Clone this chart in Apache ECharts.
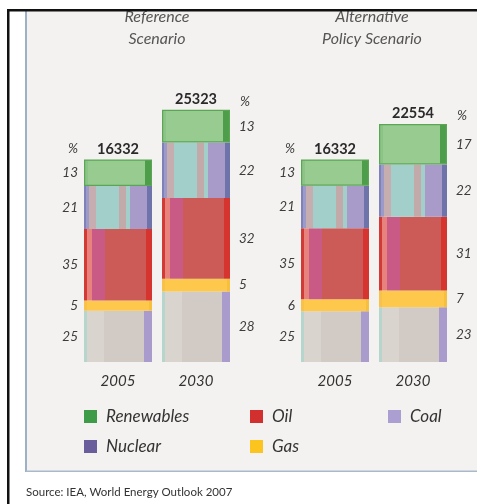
<!DOCTYPE html>
<html><head><meta charset="utf-8">
<script src="https://cdn.jsdelivr.net/npm/echarts@6/dist/echarts.min.js"></script>
<style>html,body{margin:0;padding:0;background:#fff}#c{width:477px;height:504px}</style>
</head><body><div id="c"></div>
<script>
// ---- data ----
const scenarioTitles = ['Reference\nScenario', 'Alternative\nPolicy Scenario'];
const years = ['2005', '2030'];
const fuels = ['Coal', 'Gas', 'Oil', 'Nuclear', 'Renewables']; // stacked bottom -> top
const totals = [[16332, 25323], [16332, 22554]];
const coalPct = [[25, 28], [25, 23]];
const gasPct = [[5, 5], [6, 7]];
const oilPct = [[35, 32], [35, 31]];
const nuclearPct = [[21, 22], [21, 22]];
const renewablesPct = [[13, 13], [13, 17]];
const sourceText = 'Source: IEA, World Energy Outlook 2007';

const pctByFuel = { Coal: coalPct, Gas: gasPct, Oil: oilPct, Nuclear: nuclearPct, Renewables: renewablesPct };

// ---- styles ----
const FONT = 'Lato';
function hgrad(stops) {
  const cs = [];
  for (const [a, b, c] of stops) { cs.push({ offset: a, color: c }); cs.push({ offset: b, color: c }); }
  return new echarts.graphic.LinearGradient(0, 0, 1, 0, cs);
}
const fills = {
  Coal: () => hgrad([[0, 0.05, '#b6d6cd'], [0.05, 0.3, '#dad4cf'], [0.3, 0.88, '#d1cac5'], [0.88, 1, '#a99bcc']]),
  Gas: () => hgrad([[0, 0.04, '#f8c24a'], [0.04, 0.95, '#fdc84c'], [0.95, 1, '#f6bf3c']]),
  Oil: () => hgrad([[0, 0.05, '#d23a35'], [0.05, 0.12, '#e7837c'], [0.12, 0.31, '#c95a85'], [0.31, 0.91, '#cc5a56'], [0.91, 1, '#d5342f']]),
  Nuclear: () => hgrad([[0, 0.03, '#7e82b8'], [0.03, 0.07, '#9c9ac8'], [0.07, 0.17, '#c6aeb0'], [0.17, 0.52, '#a3cfcb'], [0.52, 0.62, '#c2aaaa'], [0.62, 0.67, '#a3cfcb'], [0.67, 0.93, '#a89ac9'], [0.93, 1, '#6e74aa']]),
  Renewables: () => hgrad([[0, 0.06, '#8cc488'], [0.06, 0.9, '#97cb90'], [0.9, 1, '#4e9d4b']])
};
const legendColors = { Renewables: '#3e9b47', Oil: '#d22f2f', Coal: '#ab9fd2', Nuclear: '#6a5d9b', Gas: '#fbc41f' };

const BAR_W = 68;
const gridLefts = [79, 296];
const grids = [], xAxes = [], yAxes = [], series = [];
const labelBase = { show: true, color: '#3c3c3c', fontFamily: FONT, fontStyle: 'italic', fontSize: 13.5 };

for (let g = 0; g < 2; g++) {
  grids.push({ left: gridLefts[g], width: 156, top: 45, bottom: 142 });
  xAxes.push({
    type: 'category', gridIndex: g, data: years,
    axisLine: { show: false }, axisTick: { show: false },
    axisLabel: { margin: 12, fontSize: 15, fontStyle: 'italic', color: '#333', fontFamily: FONT }
  });
  yAxes.push({ type: 'value', gridIndex: g, min: 0, max: 200, show: false });
  const sums = years.map((y, i) => fuels.reduce((s, f) => s + pctByFuel[f][g][i], 0));
  const heights = years.map((y, i) => Math.sqrt(totals[g][i]));
  for (const f of fuels) {
    series.push({
      type: 'bar', name: f, xAxisIndex: g, yAxisIndex: g, stack: 's' + g, barWidth: BAR_W,
      itemStyle: f === 'Renewables' ? { color: fills[f](), borderColor: '#5aa655', borderWidth: 1.2 } : { color: fills[f]() },
      emphasis: { disabled: true },
      label: Object.assign({}, labelBase, { formatter: p => String(p.data.pct) }),
      data: years.map((y, i) => ({
        value: pctByFuel[f][g][i] / sums[i] * heights[i],
        pct: pctByFuel[f][g][i],
        label: { position: i === 0 ? 'left' : 'right', distance: i === 0 ? 6 : 9 }
      }))
    });
  }
  // totals above each bar
  series.push({
    type: 'bar', xAxisIndex: g, yAxisIndex: g, stack: 's' + g, barWidth: BAR_W, silent: true,
    label: { show: true, position: 'top', distance: 3, formatter: p => String(p.data.total), color: '#2a2a2a', fontFamily: FONT, fontWeight: 'bold', fontSize: 14.5 },
    data: years.map((y, i) => ({ value: 0, total: totals[g][i] }))
  });
  // "%" headers
  series.push({
    type: 'bar', xAxisIndex: g, yAxisIndex: g, stack: 's' + g, barWidth: BAR_W, silent: true,
    label: Object.assign({}, labelBase, { formatter: '%', verticalAlign: 'middle' }),
    data: years.map((y, i) => ({
      value: 0,
      label: i === 0 ? { position: [-6, -11], align: 'right' } : { position: [BAR_W + 10, -8], align: 'left' }
    }))
  });
}

const legendCommon = {
  orient: 'vertical', itemWidth: 13, itemHeight: 13, itemGap: 13, icon: 'rect', selectedMode: false, padding: 0,
  itemStyle: { borderWidth: 0 },
  textStyle: { fontFamily: FONT, fontStyle: 'italic', fontSize: 17, color: '#333', padding: [0, 0, 0, 4] }
};
const legendCols = [['Renewables', 'Nuclear'], ['Oil', 'Gas'], ['Coal']];
const legendLefts = [84, 250, 388];
const legends = legendCols.map((names, k) => Object.assign({}, legendCommon, {
  left: legendLefts[k], top: 408,
  data: names.map(n => ({ name: n, itemStyle: { color: legendColors[n], borderWidth: 0 } }))
}));

const titleCenters = [157, 372];
const graphics = [
  { type: 'rect', shape: { x: 26, y: 11, width: 451, height: 460 }, style: { fill: '#f4f2f0' }, z: -10, silent: true },
  { type: 'rect', shape: { x: 25, y: 11, width: 2, height: 461 }, style: { fill: '#9db0c6' }, z: -9, silent: true },
  { type: 'rect', shape: { x: 26, y: 470.5, width: 451, height: 1.5 }, style: { fill: '#a9b9cc' }, z: -9, silent: true },
  { type: 'text', x: 26, y: 492, style: { text: sourceText, font: '11.5px Lato', fill: '#333', verticalAlign: 'middle' }, silent: true }
];
scenarioTitles.forEach((t, k) => graphics.push({
  type: 'text', x: titleCenters[k], y: 6, z: 5, silent: true,
  style: { text: t, align: 'center', verticalAlign: 'top', font: 'italic 16px Lato', lineHeight: 22, fill: '#555' }
}));
graphics.push(
  { type: 'rect', shape: { x: 0, y: 0, width: 477, height: 9 }, style: { fill: '#fff' }, z: 100, silent: true },
  { type: 'rect', shape: { x: 7, y: 9, width: 470, height: 2.5 }, style: { fill: '#111' }, z: 101, silent: true },
  { type: 'rect', shape: { x: 7, y: 9, width: 2.5, height: 495 }, style: { fill: '#111' }, z: 101, silent: true }
);

const chart = echarts.init(document.getElementById('c'), null, { renderer: 'canvas' });
chart.setOption({
  animation: false,
  backgroundColor: '#fff',
  grid: grids, xAxis: xAxes, yAxis: yAxes,
  legend: legends,
  graphic: { elements: graphics },
  series: series
});
</script>
</body></html>
